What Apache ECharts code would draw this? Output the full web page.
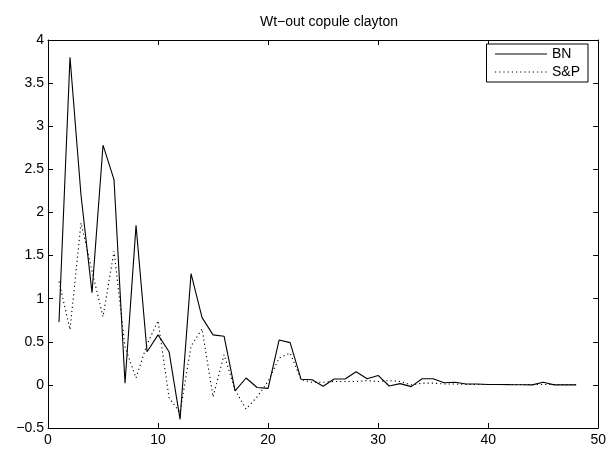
<!DOCTYPE html>
<html>
<head>
<meta charset="utf-8">
<script src="https://cdn.jsdelivr.net/npm/echarts@6/dist/echarts.min.js"></script>
<style>
html,body{margin:0;padding:0;background:#fff;}
#chart{width:609px;height:450px;}
</style>
</head>
<body>
<div id="chart"></div>
<script>
const titleText = 'Wt\u2212out copule clayton';
const seriesNames = ['BN', 'S&P'];
const xValues = [1,2,3,4,5,6,7,8,9,10,11,12,13,14,15,16,17,18,19,20,21,22,23,24,25,26,27,28,29,30,31,32,33,34,35,36,37,38,39,40,41,42,43,44,45,46,47,48];
const bnValues = [0.73,3.8,2.2,1.07,2.78,2.38,0.02,1.85,0.385,0.58,0.385,-0.40,1.29,0.78,0.58,0.565,-0.07,0.08,-0.03,-0.04,0.52,0.49,0.065,0.06,-0.015,0.068,0.068,0.153,0.072,0.11,-0.013,0.015,-0.02,0.072,0.072,0.025,0.03,0.01,0.01,0.005,0.005,0.003,0.002,0.0,0.03,0.0,0.0,0.0];
const spValues = [1.2,0.64,1.88,1.32,0.79,1.55,0.44,0.08,0.47,0.745,-0.15,-0.32,0.45,0.65,-0.14,0.35,-0.06,-0.28,-0.14,0.04,0.31,0.37,0.06,0.03,0.03,0.04,0.04,0.04,0.05,0.04,0.05,0.04,0.0,0.02,0.02,0.01,0.01,0.005,0.005,0.005,0.005,0.005,0.005,0.005,0.005,0.005,0.005,0.005];
const xTicks = [0,10,20,30,40,50];
const yTicks = [-0.5,0,0.5,1,1.5,2,2.5,3,3.5,4];

const font = '"Liberation Sans", Arial, Helvetica, sans-serif';
const chart = echarts.init(document.getElementById('chart'), null, {renderer:'canvas'});
const pair = (xs, ys) => xs.map((x, i) => [x, ys[i]]);
const fmt = v => String(v).replace('-', '\u2212');
const axisLineStyle = {color:'#000', width:1};

const option = {
  animation: false,
  backgroundColor: '#fff',
  title: {
    text: titleText, left: 324, top: 10, textAlign: 'center',
    textStyle: {fontFamily: font, fontSize: 14, fontWeight: 'normal', color: '#000'}
  },
  legend: {
    data: seriesNames, orient: 'vertical', right: 21, top: 44,
    itemWidth: 52, itemHeight: 12, itemGap: 4,
    borderColor: '#000', borderWidth: 1, borderRadius: 0,
    padding: [3, 8, 3, 8], backgroundColor: '#fff',
    itemStyle: {color: 'transparent', borderWidth: 0, opacity: 0},
    lineStyle: {width: 1},
    textStyle: {fontFamily: font, fontSize: 14, color: '#000'}
  },
  grid: {left: 48, right: 9, top: 40, bottom: 22, containLabel: false},
  xAxis: [
    {type:'value', min:0, max:50, interval:10, position:'bottom',
     axisLine:{show:true, onZero:false, lineStyle:axisLineStyle},
     axisTick:{show:true, inside:true, length:5, lineStyle:axisLineStyle},
     axisLabel:{fontFamily:font, fontSize:14, color:'#000', margin:5},
     splitLine:{show:false}},
    {type:'value', min:0, max:50, interval:10, position:'top',
     axisLine:{show:true, onZero:false, lineStyle:axisLineStyle},
     axisTick:{show:true, inside:true, length:5, lineStyle:axisLineStyle},
     axisLabel:{show:false}, splitLine:{show:false}}
  ],
  yAxis: [
    {type:'value', min:-0.5, max:4, interval:0.5, position:'left',
     axisLine:{show:true, onZero:false, lineStyle:axisLineStyle},
     axisTick:{show:true, inside:true, length:5, lineStyle:axisLineStyle},
     axisLabel:{fontFamily:font, fontSize:14, color:'#000', margin:4, formatter: fmt},
     splitLine:{show:false}},
    {type:'value', min:-0.5, max:4, interval:0.5, position:'right',
     axisLine:{show:true, onZero:false, lineStyle:axisLineStyle},
     axisTick:{show:true, inside:true, length:5, lineStyle:axisLineStyle},
     axisLabel:{show:false}, splitLine:{show:false}}
  ],
  series: [
    {name: seriesNames[0], type:'line', data: pair(xValues, bnValues),
     symbol:'none', lineStyle:{color:'#000', width:1.1, type:'solid'},
     itemStyle:{color:'#000'}, z:3},
    {name: seriesNames[1], type:'line', data: pair(xValues, spValues),
     symbol:'none', lineStyle:{color:'#000', width:1.1, type:[1.2, 3]},
     itemStyle:{color:'#000'}, z:2}
  ]
};
chart.setOption(option);
</script>
</body>
</html>
